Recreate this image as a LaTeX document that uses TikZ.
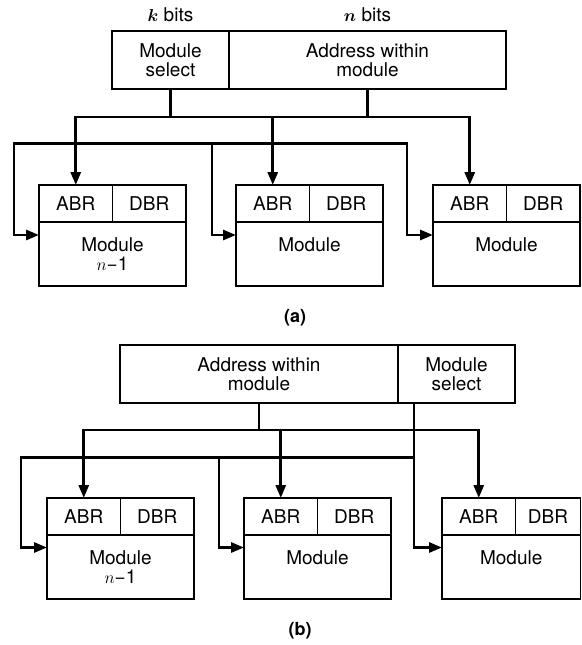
\documentclass[tikz,border=0pt]{standalone}
\usepackage{fontspec}
\setmainfont{TeX Gyre Heros}
\usetikzlibrary{arrows.meta,positioning}
\tikzset{
  cell/.style={rectangle, draw, line width=1.5pt, inner sep=0pt, outer sep=0pt, align=center, font=\fontsize{19}{19}\selectfont},
  field/.style={cell, minimum height=58pt},
  reg/.style={cell, minimum height=37pt, minimum width=73.5pt},
  body/.style={cell, minimum height=64pt, minimum width=147pt, anchor=north west},
  lbl/.style={inner sep=0pt, font=\fontsize{19}{19}\selectfont},
  figcap/.style={lbl, font=\fontsize{18}{18}\selectfont\bfseries},
  bus/.style={line width=2.8pt, line cap=rect},
  arr/.style={bus, -{Triangle[length=13pt, width=10pt]}}
}

\begin{document}
\begin{tikzpicture}[x=1pt, y=-1pt]
\useasboundingbox (0,0) rectangle (581,645);

% (a) consecutive words in a module
\node[field, minimum width=117pt, anchor=north west] (aSel) at (112,31) {Module\\select};
\node[field, minimum width=277pt, right=0pt of aSel] (aAddr) {Address within\\module};
\node[lbl, above=9pt of aSel] (kbits) {{\boldmath$k$} bits};
\node[lbl, above=9pt of aAddr] (nbits) {{\boldmath$n$} bits};

\node[reg, anchor=north west] (aAbr1) at (39,185) {ABR};
\node[reg, right=0pt of aAbr1] (aDbr1) {DBR};
\node[body] (aMod1) at (aAbr1.south west) {Module\\$n$−1};
\node[reg, anchor=north west] (aAbr2) at (236,185) {ABR};
\node[reg, right=0pt of aAbr2] (aDbr2) {DBR};
\node[body] (aMod2) at (aAbr2.south west) {Module\\\mbox{}};
\node[reg, anchor=north west] (aAbr3) at (433,185) {ABR};
\node[reg, right=0pt of aAbr3] (aDbr3) {DBR};
\node[body] (aMod3) at (aAbr3.south west) {Module\\\mbox{}};

\coordinate (aH1) at (0,117);
\coordinate (aT1) at (14,143.5);
\coordinate (aT2) at (212,143.5);
\coordinate (aT3) at (407,143.5);

\draw[bus] (aSel.south) -- (aSel.south |- aH1);
\draw[bus] (aAddr.south) -- (aAddr.south |- aH1);
\draw[bus] (aAbr1.north |- aH1) -- (aAbr3.north |- aH1);
\draw[arr] (aAbr1.north |- aH1) -- (aAbr1.north);
\draw[arr] (aAbr2.north |- aH1) -- (aAbr2.north);
\draw[arr] (aAbr3.north |- aH1) -- (aAbr3.north);
\draw[bus] (aT1) -- (aT3);
\draw[arr] (aT1) |- ([yshift=-13pt]aMod1.north west);
\draw[arr] (aT2) |- ([yshift=-13pt]aMod2.north west);
\draw[arr] (aT3) |- ([yshift=-13pt]aMod3.north west);

\node[figcap] (capA) at (295,318) {(a)};

% (b) consecutive words in consecutive modules
\node[field, minimum width=278pt, anchor=north west] (bAddr) at (120,345) {Address within\\module};
\node[field, minimum width=117pt, right=0pt of bAddr] (bSel) {Module\\select};

\node[reg, anchor=north west] (bAbr1) at (47,498) {ABR};
\node[reg, right=0pt of bAbr1] (bDbr1) {DBR};
\node[body] (bMod1) at (bAbr1.south west) {Module\\$n$−1};
\node[reg, anchor=north west] (bAbr2) at (244,498) {ABR};
\node[reg, right=0pt of bAbr2] (bDbr2) {DBR};
\node[body] (bMod2) at (bAbr2.south west) {Module\\\mbox{}};
\node[reg, anchor=north west] (bAbr3) at (442,498) {ABR};
\node[reg, minimum width=65pt, right=0pt of bAbr3] (bDbr3) {DBR};
\node[body, minimum width=138.5pt] (bMod3) at (bAbr3.south west) {Module\\\mbox{}};

\coordinate (bH1) at (0,430);
\coordinate (bT1) at (21,457.5);
\coordinate (bT2) at (219,457.5);
\coordinate (bT3) at (414,457.5);

\draw[bus] (bAddr.south) -- (bAddr.south |- bH1);
\draw[bus] (bAbr1.north |- bH1) -- (bAbr3.north |- bH1);
\draw[arr] (bAbr1.north |- bH1) -- (bAbr1.north);
\draw[arr] (bAbr2.north |- bH1) -- (bAbr2.north);
\draw[arr] (bAbr3.north |- bH1) -- (bAbr3.north);
\draw[bus] (bT1) -- (bT3);
\draw[arr] (bT1) |- ([yshift=-12.5pt]bMod1.north west);
\draw[arr] (bT2) |- ([yshift=-12.5pt]bMod2.north west);
\draw[arr] (bSel.south -| bT3) |- ([yshift=-12.5pt]bMod3.north west);

\node[figcap] (capB) at (300,631) {(b)};
\end{tikzpicture}
\end{document}
